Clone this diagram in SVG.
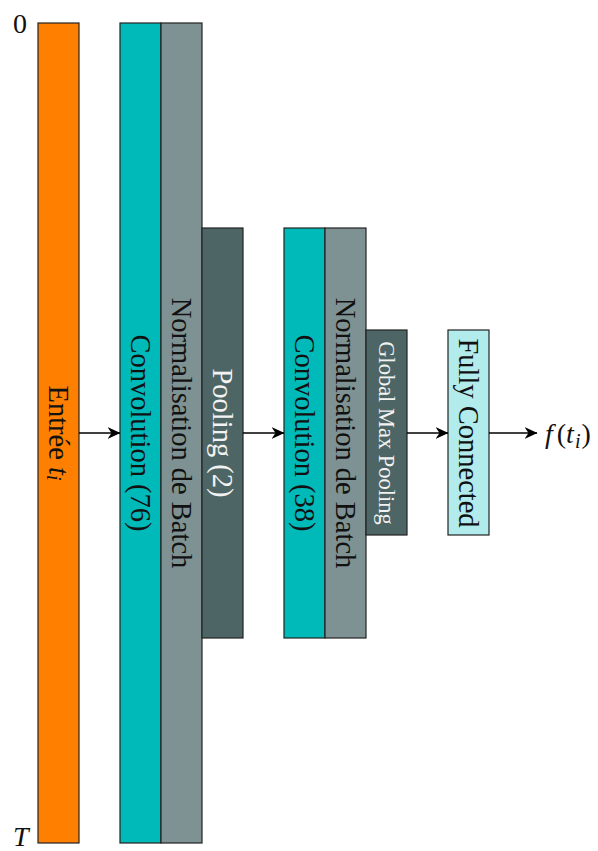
<svg xmlns="http://www.w3.org/2000/svg" width="598" height="851" viewBox="0 0 598 851">
<style>
.box{stroke:#222;stroke-width:1.2}
.t{font-family:'Liberation Serif','Tinos','Noto Serif','DejaVu Serif',serif;font-size:28.5px;fill:#111;text-anchor:middle;dominant-baseline:central}
.w{fill:#f2f2f2}
.s{font-size:22.5px}
.lbl{font-family:'Liberation Serif','Tinos','Noto Serif','DejaVu Serif',serif;font-size:28px;fill:#111}
.conn path{stroke:#000;stroke-width:1.6;fill:none}
</style>
<defs>
<marker id="ah" viewBox="0 0 13 12" refX="12.5" refY="6" markerWidth="13" markerHeight="12" markerUnits="userSpaceOnUse" orient="auto">
<path d="M0,0 L13,6 L0,12 L4,6 Z" fill="#000"/>
</marker>
</defs>
<g id="axis">
<text class="lbl" x="13" y="33">0</text>
<text class="lbl" x="13" y="846" font-style="italic">T</text>
</g>
<g id="input">
<rect class="box" x="38" y="23" width="41" height="820" fill="#FF8000"/>
<text class="t" transform="translate(58.5,433) rotate(90)">Entrée <tspan font-style="italic">t</tspan><tspan font-style="italic" font-size="20" dy="5">i</tspan></text>
</g>
<g id="conv1">
<rect class="box" x="120" y="23" width="41" height="820" fill="#00B9B9"/>
<text class="t" transform="translate(140.5,433) rotate(90)">Convolution (76)</text>
</g>
<g id="bn1">
<rect class="box" x="161" y="23" width="41" height="820" fill="#7F9293"/>
<text class="t" transform="translate(181.5,433) rotate(90)">Normalisation de Batch</text>
</g>
<g id="pool">
<rect class="box" x="202" y="228" width="41" height="410" fill="#4D6665"/>
<text class="t w" transform="translate(222.5,433) rotate(90)">Pooling (2)</text>
</g>
<g id="conv2">
<rect class="box" x="284" y="228" width="41" height="410" fill="#00B9B9"/>
<text class="t" transform="translate(304.5,433) rotate(90)">Convolution (38)</text>
</g>
<g id="bn2">
<rect class="box" x="325" y="228" width="41" height="410" fill="#7F9293"/>
<text class="t" transform="translate(345.5,433) rotate(90)">Normalisation de Batch</text>
</g>
<g id="gmp">
<rect class="box" x="366" y="330" width="41" height="205" fill="#4D6665"/>
<text class="t w s" transform="translate(386.5,433) rotate(90)">Global Max Pooling</text>
</g>
<g id="fc">
<rect class="box" x="448" y="330" width="41" height="205" fill="#B1EBEB"/>
<text class="t" transform="translate(468.5,433) rotate(90)">Fully Connected</text>
</g>
<g id="output">
<text class="lbl" x="545" y="443"><tspan font-style="italic">f</tspan><tspan dx="4">(</tspan><tspan font-style="italic">t</tspan><tspan font-style="italic" font-size="20" dy="5" dx="1">i</tspan><tspan dy="-5" dx="1">)</tspan></text>
</g>
<g class="conn" id="connectors">
<path d="M79,433 H120" marker-end="url(#ah)"/>
<path d="M243,433 H284" marker-end="url(#ah)"/>
<path d="M407,433 H448" marker-end="url(#ah)"/>
<path d="M489,433 H537" marker-end="url(#ah)"/>
</g>
</svg>
